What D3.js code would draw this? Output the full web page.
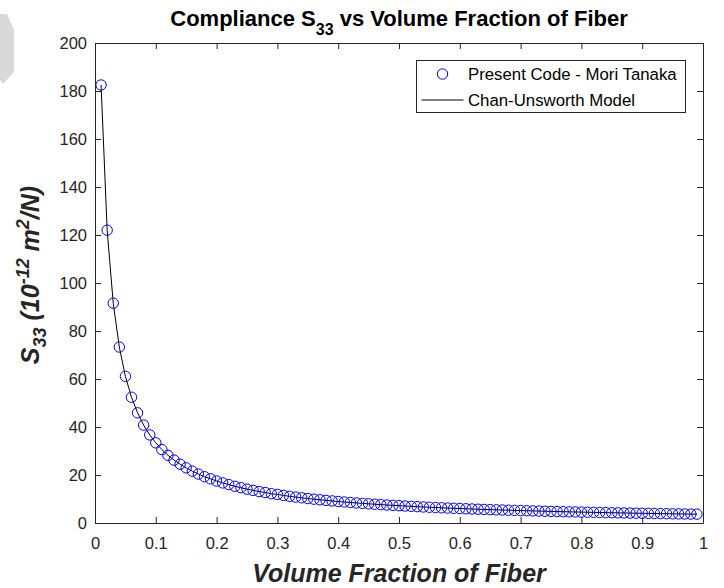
<!DOCTYPE html>
<html>
<head>
<meta charset="utf-8">
<script src="https://cdn.jsdelivr.net/npm/d3@7/dist/d3.min.js"></script>
<style>
  html, body { margin: 0; padding: 0; background: #fff; }
  svg { display: block; font-family: "Liberation Sans", Arial, Helvetica, sans-serif; }
</style>
</head>
<body>
<svg id="chart" width="724" height="588"></svg>
<script>
// Fiber volume fraction sampled by the Mori-Tanaka code
const fraction = [
  0.01,0.02,0.03,0.04,0.05,0.06,0.07,0.08,0.09,0.10,
  0.11,0.12,0.13,0.14,0.15,0.16,0.17,0.18,0.19,0.20,
  0.21,0.22,0.23,0.24,0.25,0.26,0.27,0.28,0.29,0.30,
  0.31,0.32,0.33,0.34,0.35,0.36,0.37,0.38,0.39,0.40,
  0.41,0.42,0.43,0.44,0.45,0.46,0.47,0.48,0.49,0.50,
  0.51,0.52,0.53,0.54,0.55,0.56,0.57,0.58,0.59,0.60,
  0.61,0.62,0.63,0.64,0.65,0.66,0.67,0.68,0.69,0.70,
  0.71,0.72,0.73,0.74,0.75,0.76,0.77,0.78,0.79,0.80,
  0.81,0.82,0.83,0.84,0.85,0.86,0.87,0.88,0.89,0.90,
  0.91,0.92,0.93,0.94,0.95,0.96,0.97,0.98,0.99
];

// S33 (1e-12 m^2/N) from the present Mori-Tanaka code
const moriTanaka = [
  182.5,122.0,91.6,73.3,61.1,52.4,45.9,40.8,36.7,33.4,
  30.6,28.2,26.2,24.5,23.0,21.6,20.4,19.3,18.4,17.5,
  16.7,16.0,15.3,14.7,14.1,13.6,13.1,12.7,12.2,11.9,
  11.5,11.1,10.8,10.5,10.2,9.93,9.67,9.42,9.19,8.96,
  8.75,8.55,8.35,8.17,7.99,7.82,7.66,7.50,7.35,7.21,
  7.07,6.93,6.81,6.68,6.56,6.45,6.34,6.23,6.13,6.03,
  5.93,5.83,5.74,5.65,5.57,5.49,5.41,5.33,5.25,5.18,
  5.11,5.04,4.97,4.90,4.84,4.77,4.71,4.65,4.59,4.54,
  4.48,4.43,4.38,4.32,4.27,4.23,4.18,4.13,4.08,4.04,
  4.00,3.95,3.91,3.87,3.83,3.79,3.75,3.71,3.68
];

// S33 (1e-12 m^2/N) from the Chan-Unsworth model
const chanUnsworth = [
  182.5,122.0,91.6,73.3,61.1,52.4,45.9,40.8,36.7,33.4,
  30.6,28.2,26.2,24.5,23.0,21.6,20.4,19.3,18.4,17.5,
  16.7,16.0,15.3,14.7,14.1,13.6,13.1,12.7,12.2,11.9,
  11.5,11.1,10.8,10.5,10.2,9.93,9.67,9.42,9.19,8.96,
  8.75,8.55,8.35,8.17,7.99,7.82,7.66,7.50,7.35,7.21,
  7.07,6.93,6.81,6.68,6.56,6.45,6.34,6.23,6.13,6.03,
  5.93,5.83,5.74,5.65,5.57,5.49,5.41,5.33,5.25,5.18,
  5.11,5.04,4.97,4.90,4.84,4.77,4.71,4.65,4.59,4.54,
  4.48,4.43,4.38,4.32,4.27,4.23,4.18,4.13,4.08,4.04,
  4.00,3.95,3.91,3.87,3.83,3.79,3.75,3.71,3.68
];

const xTicks = [0,0.1,0.2,0.3,0.4,0.5,0.6,0.7,0.8,0.9,1];
const xTickLabels = ["0","0.1","0.2","0.3","0.4","0.5","0.6","0.7","0.8","0.9","1"];
const yTicks = [0,20,40,60,80,100,120,140,160,180,200];
const yTickLabels = ["0","20","40","60","80","100","120","140","160","180","200"];
const seriesNames = ["Present Code - Mori Tanaka", "Chan-Unsworth Model"];

const svg = d3.select("#chart");
const axisColor = "#262626";

// faint corner mark
svg.append("path")
  .attr("d", "M0,14 L7,14 L14,30 L14,72 L3,84 L0,80 Z")
  .attr("fill", "#d9d9d9");

const x = d3.scaleLinear().domain([0, 1]).range([95, 703]);
const y = d3.scaleLinear().domain([0, 200]).range([523, 43]);

const plot = svg.append("g");

// white axes background
plot.append("rect")
  .attr("x", x(0)).attr("y", y(200))
  .attr("width", x(1) - x(0)).attr("height", y(0) - y(200))
  .attr("fill", "#fff");

function styleAxis(g) {
  g.selectAll("path.domain").attr("stroke", axisColor).attr("stroke-width", 1);
  g.selectAll(".tick line").attr("stroke", axisColor).attr("stroke-width", 1);
  g.selectAll(".tick text")
    .attr("fill", axisColor)
    .style("font-size", "16.5px")
    .style("font-family", "'Liberation Sans', Arial, sans-serif");
}

// bottom axis with labels
plot.append("g")
  .attr("transform", `translate(0,${y(0)})`)
  .call(d3.axisBottom(x).tickValues(xTicks)
    .tickFormat((d, i) => xTickLabels[i])
    .tickSizeInner(-6).tickSizeOuter(0).tickPadding(14))
  .call(styleAxis);

// top axis, ticks only
plot.append("g")
  .attr("transform", `translate(0,${y(200)})`)
  .call(d3.axisTop(x).tickValues(xTicks).tickFormat("")
    .tickSizeInner(-6).tickSizeOuter(0))
  .call(styleAxis);

// left axis with labels
plot.append("g")
  .attr("transform", `translate(${x(0)},0)`)
  .call(d3.axisLeft(y).tickValues(yTicks)
    .tickFormat((d, i) => yTickLabels[i])
    .tickSizeInner(-6).tickSizeOuter(0).tickPadding(8))
  .call(styleAxis);

// right axis, ticks only
plot.append("g")
  .attr("transform", `translate(${x(1)},0)`)
  .call(d3.axisRight(y).tickValues(yTicks).tickFormat("")
    .tickSizeInner(-6).tickSizeOuter(0))
  .call(styleAxis);

// Chan-Unsworth model curve
const line = d3.line()
  .x((d, i) => x(fraction[i]))
  .y(d => y(d));

plot.append("path")
  .datum(chanUnsworth)
  .attr("fill", "none")
  .attr("stroke", "#000")
  .attr("stroke-width", 1)
  .attr("d", line);

// Mori-Tanaka markers
plot.append("g")
  .selectAll("circle")
  .data(moriTanaka)
  .join("circle")
  .attr("cx", (d, i) => x(fraction[i]))
  .attr("cy", d => y(d))
  .attr("r", 5.2)
  .attr("fill", "none")
  .attr("stroke", "#0000ff")
  .attr("stroke-width", 1);

// title
const title = svg.append("text")
  .attr("x", (x(0) + x(1)) / 2)
  .attr("y", 26)
  .attr("text-anchor", "middle")
  .attr("fill", "#000")
  .style("font-size", "22px")
  .style("font-weight", "bold");
title.append("tspan").text("Compliance S");
title.append("tspan").attr("dy", 9).style("font-size", "16px").text("33");
title.append("tspan").attr("dy", -9).text(" vs Volume Fraction of Fiber");

// x axis label
svg.append("text")
  .attr("x", (x(0) + x(1)) / 2)
  .attr("y", 582)
  .attr("text-anchor", "middle")
  .attr("fill", axisColor)
  .style("font-size", "25px")
  .style("font-weight", "bold")
  .style("font-style", "italic")
  .text("Volume Fraction of Fiber");

// y axis label
const yl = svg.append("text")
  .attr("transform", `translate(39,${(y(0) + y(200)) / 2 - 8}) rotate(-90)`)
  .attr("text-anchor", "middle")
  .attr("fill", axisColor)
  .style("font-size", "25px")
  .style("font-weight", "bold")
  .style("font-style", "italic");
yl.append("tspan").text("S");
yl.append("tspan").attr("dy", 7).style("font-size", "18px").text("33");
yl.append("tspan").attr("dy", -7).text(" (10");
yl.append("tspan").attr("dy", -10).style("font-size", "18px").text("-12");
yl.append("tspan").attr("dy", 10).text(" m");
yl.append("tspan").attr("dy", -10).style("font-size", "18px").text("2");
yl.append("tspan").attr("dy", 10).text("/N)");

// legend
const legend = svg.append("g");
legend.append("rect")
  .attr("x", 416.5).attr("y", 60.5)
  .attr("width", 269).attr("height", 52)
  .attr("fill", "#fff")
  .attr("stroke", axisColor)
  .attr("stroke-width", 1);
legend.append("circle")
  .attr("cx", 442.5).attr("cy", 74)
  .attr("r", 5.2)
  .attr("fill", "none")
  .attr("stroke", "#0000ff");
legend.append("line")
  .attr("x1", 421.5).attr("x2", 463.5)
  .attr("y1", 100).attr("y2", 100)
  .attr("stroke", "#000");
legend.selectAll("text.lbl")
  .data(seriesNames)
  .join("text")
  .attr("class", "lbl")
  .attr("x", 468)
  .attr("y", (d, i) => 80 + i * 26)
  .attr("fill", "#000")
  .style("font-size", "16.8px")
  .text(d => d);
</script>
</body>
</html>
